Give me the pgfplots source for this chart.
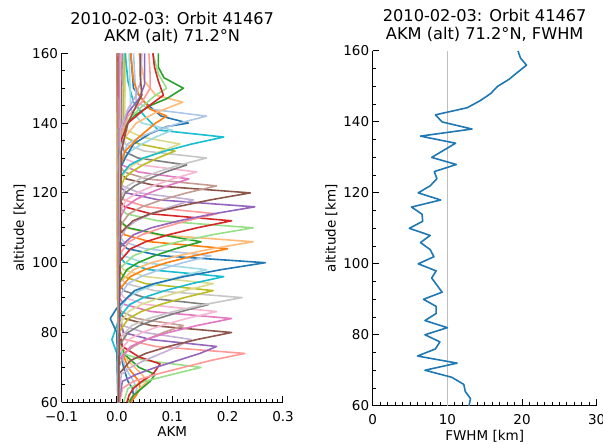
\documentclass[border=0pt]{standalone}
\usepackage{fontspec}
\setmainfont{DejaVu Sans}
\usepackage{pgfplots}
\pgfplotsset{compat=1.18}
\definecolor{c0}{HTML}{1F77B4}
\definecolor{c1}{HTML}{AEC7E8}
\definecolor{c2}{HTML}{FF7F0E}
\definecolor{c3}{HTML}{FFBB78}
\definecolor{c4}{HTML}{2CA02C}
\definecolor{c5}{HTML}{98DF8A}
\definecolor{c6}{HTML}{D62728}
\definecolor{c7}{HTML}{FF9896}
\definecolor{c8}{HTML}{9467BD}
\definecolor{c9}{HTML}{C5B0D5}
\definecolor{c10}{HTML}{8C564B}
\definecolor{c11}{HTML}{C49C94}
\definecolor{c12}{HTML}{E377C2}
\definecolor{c13}{HTML}{F7B6D2}
\definecolor{c14}{HTML}{7F7F7F}
\definecolor{c15}{HTML}{C7C7C7}
\definecolor{c16}{HTML}{BCBD22}
\definecolor{c17}{HTML}{DBDB8D}
\definecolor{c18}{HTML}{17BECF}
\definecolor{c19}{HTML}{9EDAE5}
\pgfplotsset{
 myax/.style={
  scale only axis,
  anchor=south west,
  axis x line*=bottom, axis y line*=left,
  axis line style={line width=1.1pt, black},
  tick align=inside,
  major tick length=6.5pt, minor tick length=3.3pt,
  tick style={black, line width=1pt},
  minor tick style={line width=0.8pt},
  tick label style={font=\fontsize{13.5}{15}\selectfont},
  xticklabel style={yshift=-5.5pt},
  label style={font=\fontsize{13.5}{15}\selectfont},
  title style={font=\fontsize{16.2}{17.3}\selectfont, align=center, at={(0.5,1)}, anchor=south, inner sep=0pt, yshift=3.5pt},
  /pgf/number format/assume math mode=true,
  ymin=60, ymax=160, ytick={60,80,...,160}, minor y tick num=3,
  minor x tick num=9,
  every axis plot/.append style={line width=1.6pt, line join=round, no marks},
  ylabel={altitude [km]},
 }
}
\begin{document}
\begin{tikzpicture}
\begin{axis}[myax, at={(61.5pt,41.7pt)}, width=221.5pt, height=349pt,
  xmin=-0.1, xmax=0.3, xtick={-0.1,0,0.1,0.2,0.3}, xticklabels={−0.1,0.0,0.1,0.2,0.3},
  xlabel={AKM},
  xlabel style={at={(axis description cs:0.5,-0.098)}, anchor=base},
  ylabel style={at={(axis description cs:-0.189,0.5)}, anchor=center},
  title={2010-02-03: Orbit 41467\\AKM (alt) 71.2°N}]
% low kernels
\addplot[c0] coordinates {(0.02,60)(0.03,62)(0.028,64)(0.02,66)(0.012,70)(0.005,76)(0.002,90)(0.002,160)};
\addplot[c1] coordinates {(0.022,60)(0.032,62)(0.036,64)(0.03,66)(0.015,70)(0.005,76)(0.002,90)(0.001,160)};
\addplot[c2] coordinates {(0.025,60)(0.035,62)(0.042,64)(0.04,66)(0.02,70)(0.006,76)(0.001,90)(0.001,160)};
\addplot[c3] coordinates {(0.02,60)(0.03,62)(0.042,64)(0.055,66)(0.045,68)(0.02,72)(0.005,78)(0.0,100)(0.001,160)};
\addplot[c4] coordinates {(0.022,60)(0.03,62)(0.045,64)(0.06,66)(0.069,68)(0.04,70)(0.012,74)(0.004,80)(0.002,120)(0.001,160)};
\addplot[c5] coordinates {(0.012,60)(0.02,64)(0.05,66)(0.1,68)(0.152,70)(0.05,72)(0.01,74)(0.002,80)(0.001,160)};
\addplot[c6] coordinates {(0.018,60)(0.022,62)(0.03,64)(0.045,66)(0.065,68)(0.078,71)(0.04,73)(0.01,76)(0.002,82)(0.001,160)};
\addplot[c7] coordinates {(0.005,60)(0.01,64)(0.03,66)(0.07,68)(0.12,70)(0.17,72)(0.231,74)(0.07,76)(0.015,78)(0.003,84)(0.002,160)};
\addplot[c8] coordinates {(0.003,60)(0.01,66)(0.035,68)(0.07,70)(0.11,72)(0.15,74)(0.18,76)(0.06,78)(0.012,80)(0.002,86)(0.002,160)};
\addplot[c9] coordinates {(0.003,60)(0.008,68)(0.025,70)(0.05,72)(0.08,74)(0.11,76)(0.134,78)(0.05,80)(0.01,82)(0.002,88)(0.002,160)};
% middle kernels
\addplot[c10] coordinates {(0.003,60)(0.003,68)(0.025,72)(0.052,74)(0.093,76)(0.145,78)(0.207,80)(0.062,82)(0.014,84)(0.004,86)(0.002,160)};
\addplot[c11] coordinates {(0.003,60)(0.003,70)(0.014,74)(0.03,76)(0.054,78)(0.084,80)(0.12,82)(0.036,84)(0.008,86)(0.003,88)(0.002,160)};
\addplot[c12] coordinates {(0.002,60)(0.003,72)(0.025,76)(0.052,78)(0.093,80)(0.145,82)(0.207,84)(0.062,86)(0.014,88)(0.004,90)(0.002,160)};
\addplot[c13] coordinates {(0.002,60)(0.003,74)(0.022,78)(0.045,80)(0.081,82)(0.126,84)(0.18,86)(0.054,88)(0.013,90)(0.004,92)(0.002,160)};
\addplot[c14] coordinates {(0.002,60)(0.003,76)(0.02,80)(0.041,82)(0.074,84)(0.116,86)(0.165,88)(0.05,90)(0.012,92)(0.004,94)(0.002,160)};
\addplot[c15] coordinates {(0.002,60)(0.003,78)(0.027,82)(0.057,84)(0.102,86)(0.158,88)(0.226,90)(0.068,92)(0.016,94)(0.004,96)(0.002,160)};
\addplot[c16] coordinates {(0.002,60)(0.003,80)(0.021,84)(0.044,86)(0.078,88)(0.122,90)(0.174,92)(0.052,94)(0.012,96)(0.004,98)(0.002,160)};
\addplot[c17] coordinates {(0.002,60)(0.003,82)(0.021,86)(0.044,88)(0.078,90)(0.122,92)(0.174,94)(0.052,96)(0.012,98)(0.004,100)(0.002,160)};
\addplot[c18] coordinates {(0.002,60)(0.0,74)(-0.009,78)(0.0,82)(0.003,84)(0.023,88)(0.048,90)(0.087,92)(0.135,94)(0.193,96)(0.058,98)(0.014,100)(0.004,102)(0.002,160)};
\addplot[c19] coordinates {(0.002,60)(0.003,86)(0.019,90)(0.041,92)(0.073,94)(0.113,96)(0.162,98)(0.049,100)(0.011,102)(0.004,104)(0.002,160)};
\addplot[c0] coordinates {(0.002,60)(0.0,80)(-0.012,84)(0.0,87)(0.032,92)(0.067,94)(0.121,96)(0.188,98)(0.268,100)(0.08,102)(0.019,104)(0.005,106)(0.002,160)};
\addplot[c1] coordinates {(0.002,60)(0.003,90)(0.02,94)(0.043,96)(0.077,98)(0.119,100)(0.17,102)(0.051,104)(0.012,106)(0.004,108)(0.002,160)};
\addplot[c2] coordinates {(0.002,60)(0.003,92)(0.024,96)(0.05,98)(0.09,100)(0.14,102)(0.2,104)(0.06,106)(0.014,108)(0.004,110)(0.002,160)};
\addplot[c3] coordinates {(0.002,60)(0.003,94)(0.03,98)(0.062,100)(0.111,102)(0.172,104)(0.246,106)(0.074,108)(0.017,110)(0.004,112)(0.002,160)};
\addplot[c4] coordinates {(0.002,60)(0.003,94)(0.018,98)(0.038,100)(0.068,102)(0.106,104)(0.152,106)(0.08,108)(0.02,110)(0.005,112)(0.002,160)};
\addplot[c5] coordinates {(0.002,60)(0.003,98)(0.03,102)(0.062,104)(0.111,106)(0.172,108)(0.246,110)(0.074,112)(0.017,114)(0.004,116)(0.002,160)};
\addplot[c6] coordinates {(0.002,60)(0.003,100)(0.025,104)(0.052,106)(0.093,108)(0.145,110)(0.207,112)(0.062,114)(0.014,116)(0.004,118)(0.002,160)};
\addplot[c7] coordinates {(0.002,60)(0.003,102)(0.022,106)(0.045,108)(0.081,110)(0.126,112)(0.18,114)(0.054,116)(0.013,118)(0.004,120)(0.003,160)};
\addplot[c8] coordinates {(0.002,60)(0.003,104)(0.03,108)(0.062,110)(0.112,112)(0.174,114)(0.249,116)(0.075,118)(0.017,120)(0.005,122)(0.003,160)};
\addplot[c9] coordinates {(0.002,60)(0.003,106)(0.017,110)(0.035,112)(0.062,114)(0.097,116)(0.138,118)(0.041,120)(0.01,122)(0.004,124)(0.003,160)};
\addplot[c10] coordinates {(0.002,60)(0.003,108)(0.029,112)(0.06,114)(0.108,116)(0.169,118)(0.241,120)(0.072,122)(0.017,124)(0.005,126)(0.004,160)};
\addplot[c11] coordinates {(0.002,60)(0.003,110)(0.022,114)(0.045,116)(0.081,118)(0.126,120)(0.18,122)(0.054,124)(0.013,126)(0.005,128)(0.005,160)};
\addplot[c12] coordinates {(0.002,60)(0.003,112)(0.016,116)(0.033,118)(0.059,120)(0.091,122)(0.13,124)(0.039,126)(0.009,128)(0.005,130)(0.006,160)};
\addplot[c13] coordinates {(0.002,60)(0.003,114)(0.017,118)(0.036,120)(0.065,122)(0.101,124)(0.144,126)(0.043,128)(0.01,130)(0.006,132)(0.008,160)};
\addplot[c14] coordinates {(0.002,60)(0.003,116)(0.015,120)(0.032,122)(0.057,124)(0.088,126)(0.126,128)(0.038,130)(0.012,132)(0.008,136)(0.01,160)};
\addplot[c15] coordinates {(0.002,60)(0.003,118)(0.019,122)(0.041,124)(0.073,126)(0.113,128)(0.162,130)(0.049,132)(0.015,134)(0.01,138)(0.012,160)};
\addplot[c16] coordinates {(0.002,60)(0.003,120)(0.013,124)(0.026,126)(0.047,128)(0.074,130)(0.105,132)(0.04,134)(0.015,136)(0.012,140)(0.014,160)};
\addplot[c17] coordinates {(0.002,60)(0.003,122)(0.014,126)(0.029,128)(0.051,130)(0.08,132)(0.114,134)(0.045,136)(0.018,138)(0.014,142)(0.016,160)};
\addplot[c18] coordinates {(0.002,60)(0.003,124)(0.023,128)(0.048,130)(0.087,132)(0.135,134)(0.193,136)(0.075,138)(0.05,142)(0.03,146)(0.02,152)(0.015,160)};
\addplot[c19] coordinates {(0.002,60)(0.003,126)(0.012,130)(0.025,132)(0.045,134)(0.07,136)(0.1,138)(0.045,140)(0.025,144)(0.022,160)};
% upper kernels
\addplot[c0] coordinates {(0.002,60)(0.003,126)(0.015,130)(0.03,134)(0.06,137)(0.09,139)(0.129,140)(0.08,142)(0.05,146)(0.03,150)(0.025,160)};
\addplot[c1] coordinates {(0.002,60)(0.003,128)(0.019,134)(0.041,136)(0.073,138)(0.113,140)(0.162,142)(0.06,144)(0.035,146)(0.03,160)};
\addplot[c2] coordinates {(0.003,60)(0.003,126)(0.015,132)(0.04,136)(0.07,140)(0.09,142)(0.06,144)(0.04,148)(0.03,152)(0.025,160)};
\addplot[c3] coordinates {(0.003,60)(0.004,130)(0.015,136)(0.035,140)(0.07,143)(0.119,146)(0.07,148)(0.05,152)(0.04,160)};
\addplot[c4] coordinates {(0.003,60)(0.004,132)(0.01,138)(0.03,142)(0.06,145)(0.09,147)(0.12,150)(0.085,153)(0.075,156)(0.075,160)};
\addplot[c5] coordinates {(0.003,60)(0.005,134)(0.015,140)(0.04,144)(0.07,148)(0.09,150)(0.075,154)(0.065,160)};
\addplot[c6] coordinates {(0.003,60)(0.005,134)(0.02,140)(0.05,144)(0.084,148)(0.075,152)(0.068,156)(0.065,160)};
\addplot[c7] coordinates {(0.003,60)(0.005,136)(0.02,142)(0.045,146)(0.06,150)(0.06,154)(0.058,160)};
\addplot[c8] coordinates {(0.003,60)(0.005,138)(0.02,143)(0.04,147)(0.05,151)(0.05,156)(0.05,160)};
\addplot[c9] coordinates {(0.003,60)(0.006,138)(0.02,144)(0.035,148)(0.043,152)(0.045,160)};
\addplot[c10] coordinates {(0.003,60)(0.008,132)(0.02,140)(0.035,145)(0.045,148)(0.042,154)(0.042,160)};
\end{axis}
\begin{axis}[myax, at={(372.7pt,38.3pt)}, width=224pt, height=354.7pt,
  xmin=0, xmax=30, xtick={0,10,20,30},
  xlabel={FWHM [km]},
  xlabel style={at={(axis description cs:0.5,-0.097)}, anchor=base},
  ylabel style={at={(axis description cs:-0.185,0.5)}, anchor=center},
  title={2010-02-03: Orbit 41467\\AKM (alt) 71.2°N, FWHM}]
\addplot[color={rgb,255:red,191;green,191;blue,191}, line width=1.6pt] coordinates {(10,60)(10,160)};
\addplot[c0] coordinates {(12.9,60)(13.1,62)(12.4,64)(12.2,66)(10.6,68)(7.0,70)(11.3,72)(6.0,74)(8.4,76)(9.0,78)(7.0,80)(10.0,82)(7.0,84)(8.5,86)(8.5,88)(6.8,90)(9.3,92)(8.6,94)(7.9,96)(8.5,98)(6.1,100)(8.2,102)(7.7,104)(6.4,106)(7.7,108)(4.9,110)(6.7,112)(6.6,114)(5.2,116)(9.1,118)(6.1,120)(7.7,122)(8.6,124)(8.25,126)(11.2,128)(7.9,130)(9.5,132)(11.1,134)(6.4,136)(13.3,138)(9.3,140)(8.4,142)(12.65,144)(14.4,146)(15.8,148)(16.7,150)(18.25,152)(19.4,154)(20.6,156)(19.8,158)(19.46,160)};
\end{axis}
\pgfresetboundingbox
\path[use as bounding box] (0,0) rectangle (603pt,444pt);
\end{tikzpicture}
\end{document}
